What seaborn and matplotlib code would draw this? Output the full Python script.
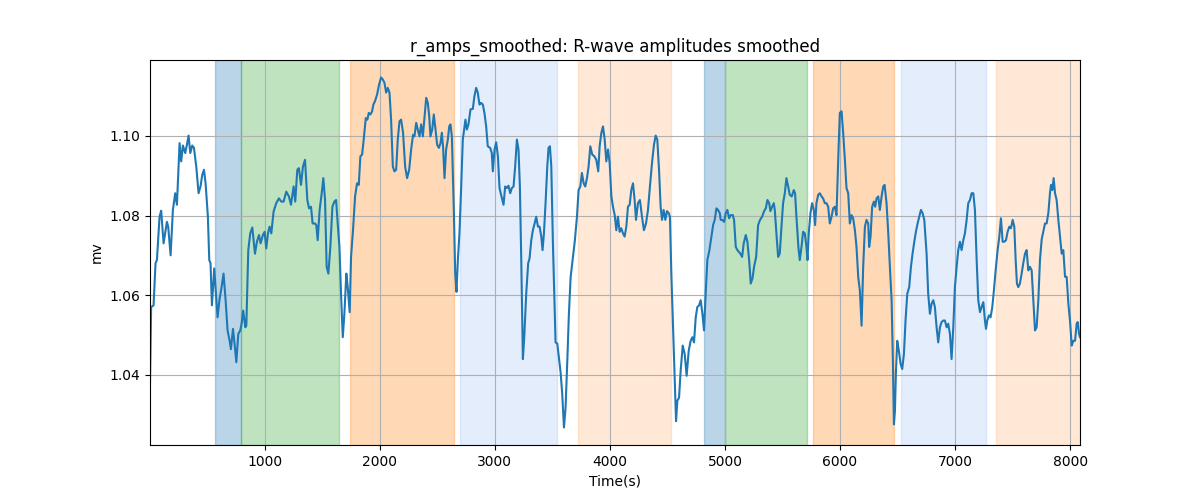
import numpy as np
import pandas as pd
import seaborn as sns
import matplotlib
matplotlib.use("Agg")
import matplotlib.pyplot as plt

# Time axis (seconds) and smoothed R-wave amplitude (mV)
time_s = [
    4, 14, 35, 52, 64, 87, 101, 122, 151, 162,
    183, 203, 223, 238, 261, 275, 290, 310, 325, 339,
    354, 371, 386, 406, 426, 443, 458, 473, 487, 507,
    519, 530, 542, 562, 577, 591, 609, 626, 643, 661,
    678, 696, 707, 725, 739, 754, 771, 788, 800, 814,
    832, 841, 858, 875, 893, 916, 933, 951, 965, 985,
    1000, 1014, 1029, 1043, 1058, 1078, 1101, 1124, 1145, 1165,
    1188, 1211, 1229, 1252, 1266, 1284, 1298, 1316, 1333, 1351,
    1371, 1386, 1403, 1417, 1438, 1449, 1461, 1478, 1496, 1510,
    1525, 1539, 1554, 1571, 1589, 1606, 1621, 1635, 1650, 1664,
    1679, 1693, 1710, 1722, 1739, 1751, 1768, 1786, 1803, 1818,
    1832, 1847, 1861, 1879, 1893, 1905, 1919, 1934, 1945, 1960,
    1977, 1995, 2012, 2027, 2041, 2056, 2070, 2085, 2099, 2114,
    2128, 2143, 2157, 2172, 2186, 2203, 2221, 2238, 2256, 2273,
    2290, 2302, 2317, 2331, 2346, 2360, 2375, 2389, 2404, 2418,
    2430, 2441, 2456, 2470, 2485, 2499, 2514, 2528, 2540, 2551,
    2563, 2577, 2592, 2604, 2615, 2627, 2644, 2656, 2667, 2679,
    2693, 2708, 2722, 2737, 2745, 2757, 2771, 2789, 2809, 2823,
    2838, 2852, 2867, 2881, 2896, 2910, 2925, 2939, 2960, 2974,
    2983, 2998, 3012, 3027, 3041, 3058, 3076, 3090, 3105, 3119,
    3134, 3148, 3163, 3177, 3192, 3206, 3218, 3230, 3244, 3256,
    3273, 3290, 3302, 3317, 3331, 3346, 3360, 3375, 3389, 3404,
    3415, 3427, 3441, 3456, 3467, 3479, 3491, 3505, 3520, 3528,
    3543, 3557, 3572, 3586, 3601, 3615, 3630, 3644, 3659, 3679,
    3696, 3714, 3728, 3743, 3757, 3772, 3786, 3801, 3815, 3830,
    3847, 3865, 3882, 3899, 3911, 3926, 3940, 3955, 3969, 3984,
    3998, 4013, 4027, 4042, 4056, 4070, 4085, 4099, 4114, 4128,
    4143, 4157, 4172, 4186, 4201, 4215, 4227, 4244, 4261, 4279,
    4296, 4314, 4331, 4348, 4366, 4383, 4398, 4412, 4427, 4441,
    4453, 4467, 4482, 4496, 4511, 4522, 4534, 4549, 4563, 4575,
    4586, 4601, 4615, 4633, 4650, 4667, 4685, 4702, 4717, 4731,
    4746, 4760, 4775, 4789, 4804, 4818, 4833, 4847, 4865, 4882,
    4897, 4911, 4926, 4940, 4955, 4963, 4978, 4992, 5007, 5021,
    5036, 5050, 5068, 5079, 5094, 5108, 5120, 5134, 5149, 5163,
    5181, 5195, 5210, 5224, 5239, 5253, 5271, 5288, 5305, 5323,
    5340, 5355, 5369, 5384, 5395, 5410, 5424, 5433, 5447, 5462,
    5476, 5491, 5505, 5520, 5534, 5549, 5563, 5580, 5598, 5609,
    5621, 5638, 5650, 5665, 5679, 5694, 5708, 5717, 5728, 5743,
    5757, 5772, 5783, 5795, 5810, 5824, 5839, 5853, 5868, 5882,
    5897, 5911, 5926, 5940, 5955, 5969, 5984, 5998, 6013, 6027,
    6042, 6056, 6071, 6085, 6100, 6114, 6129, 6143, 6158, 6172,
    6187, 6201, 6216, 6230, 6245, 6253, 6265, 6279, 6294, 6305,
    6317, 6332, 6346, 6361, 6375, 6387, 6404, 6419, 6433, 6448,
    6459, 6468, 6477, 6485, 6497, 6511, 6526, 6540, 6555, 6569,
    6584, 6601, 6616, 6630, 6645, 6659, 6674, 6688, 6703, 6717,
    6732, 6752, 6766, 6781, 6795, 6810, 6824, 6839, 6853, 6868,
    6882, 6897, 6911, 6926, 6940, 6955, 6969, 6984, 6998, 7013,
    7027, 7042, 7056, 7071, 7085, 7100, 7114, 7129, 7143, 7158,
    7172, 7187, 7201, 7216, 7230, 7245, 7259, 7268, 7279, 7294,
    7308, 7323, 7337, 7352, 7369, 7384, 7398, 7413, 7427, 7442,
    7456, 7471, 7485, 7500, 7514, 7526, 7537, 7549, 7563, 7578,
    7592, 7607, 7621, 7636, 7650, 7665, 7679, 7694, 7708, 7723,
    7737, 7752, 7766, 7781, 7795, 7810, 7824, 7833, 7845, 7856,
    7868, 7882, 7897, 7911, 7926, 7940, 7955, 7969, 7984, 7998,
    8013, 8027, 8042, 8056, 8065, 8077, 8085,
]

r_amps = [
    1.038, 1.057, 1.0574, 1.068, 1.0688, 1.0797, 1.0812, 1.073, 1.0784, 1.0772,
    1.070, 1.0814, 1.0856, 1.0827, 1.0982, 1.0936, 1.0976, 1.0957, 1.0978, 1.1001,
    1.0957, 1.0976, 1.097, 1.0923, 1.0856, 1.0873, 1.0902, 1.0915, 1.0881, 1.0797,
    1.0688, 1.068, 1.0574, 1.0667, 1.0603, 1.0544, 1.0591, 1.062, 1.0654, 1.0587,
    1.0511, 1.0485, 1.0464, 1.0515, 1.0477, 1.0431, 1.0502, 1.0511, 1.0528, 1.0561,
    1.0519, 1.0523, 1.0713, 1.0755, 1.077, 1.0704, 1.0734, 1.0751, 1.073, 1.0751,
    1.0759, 1.0717, 1.0755, 1.0772, 1.0755, 1.081, 1.0831, 1.0843, 1.0835, 1.0835,
    1.086, 1.0848, 1.0827, 1.0873, 1.0835, 1.0915, 1.0919, 1.0877, 1.0923, 1.094,
    1.0839, 1.0818, 1.0822, 1.078, 1.078, 1.0776, 1.0738, 1.0814, 1.0856, 1.0894,
    1.0839, 1.0671, 1.0654, 1.0721, 1.0822, 1.0835, 1.0839, 1.078, 1.0721, 1.0603,
    1.0494, 1.0553, 1.0654, 1.062, 1.0557, 1.0696, 1.0763, 1.0848, 1.0881, 1.0877,
    1.0949, 1.0953, 1.0991, 1.1045, 1.1041, 1.1058, 1.1054, 1.1062, 1.1079, 1.1088,
    1.1104, 1.113, 1.1147, 1.1142, 1.1134, 1.1109, 1.1121, 1.1109, 1.1041, 1.0923,
    1.0911, 1.0915, 1.0991, 1.1037, 1.1041, 1.1008, 1.0923, 1.0894, 1.0915, 1.0966,
    1.1003, 1.0999, 1.1033, 1.1016, 1.0999, 1.1029, 1.0999, 1.1045, 1.1096, 1.1083,
    1.105, 1.0999, 1.1016, 1.1054, 1.1016, 1.0978, 1.097, 1.0982, 1.1008, 1.097,
    1.0894, 1.0966, 1.0991, 1.1024, 1.1029, 1.0999, 1.0814, 1.0654, 1.0608, 1.0688,
    1.0755, 1.0873, 1.0991, 1.1024, 1.1041, 1.1016, 1.1029, 1.1067, 1.1068, 1.11,
    1.1121, 1.1109, 1.1079, 1.1083, 1.1079, 1.1058, 1.1024, 1.0974, 1.097, 1.0957,
    1.0911, 1.0966, 1.0984, 1.0949, 1.0869, 1.0848, 1.0827, 1.0873, 1.0869, 1.0875,
    1.0856, 1.0869, 1.0873, 1.0923, 1.0991, 1.0966, 1.0873, 1.0688, 1.0439, 1.0494,
    1.0603, 1.068, 1.0692, 1.0738, 1.0763, 1.078, 1.0797, 1.0772, 1.0772, 1.0747,
    1.0713, 1.0755, 1.0831, 1.0923, 1.097, 1.0974, 1.0923, 1.073, 1.0561, 1.0481,
    1.0478, 1.0443, 1.0405, 1.0351, 1.0267, 1.0317, 1.0435, 1.0553, 1.0645, 1.0696,
    1.0738, 1.0797, 1.0864, 1.0873, 1.0907, 1.0881, 1.0873, 1.0894, 1.0923, 1.0974,
    1.0953, 1.0949, 1.094, 1.0911, 1.0974, 1.1008, 1.1024, 1.0991, 1.0936, 1.0966,
    1.0932, 1.0848, 1.0822, 1.0801, 1.0763, 1.0797, 1.0759, 1.0768, 1.0755, 1.0747,
    1.0772, 1.0822, 1.0827, 1.0864, 1.0881, 1.0839, 1.0789, 1.0831, 1.0839, 1.0797,
    1.0763, 1.078, 1.0814, 1.0873, 1.0932, 1.0978, 1.1001, 1.0991, 1.0915, 1.0822,
    1.0789, 1.0814, 1.0789, 1.0811, 1.0806, 1.0797, 1.0654, 1.0519, 1.0394, 1.0283,
    1.0334, 1.0342, 1.041, 1.0473, 1.0452, 1.0397, 1.046, 1.0485, 1.0494, 1.0481,
    1.0544, 1.057, 1.0574, 1.0587, 1.0553, 1.0511, 1.0608, 1.0688, 1.0713, 1.0747,
    1.0776, 1.0789, 1.0818, 1.0814, 1.0806, 1.0789, 1.0789, 1.0784, 1.0806, 1.0814,
    1.0793, 1.0801, 1.0801, 1.0789, 1.0721, 1.0713, 1.0709, 1.0704, 1.0696, 1.073,
    1.0751, 1.0734, 1.0688, 1.0629, 1.0642, 1.0671, 1.0696, 1.0776, 1.0789, 1.0797,
    1.0811, 1.0818, 1.0839, 1.0831, 1.0811, 1.0822, 1.0831, 1.0814, 1.0755, 1.0696,
    1.0704, 1.0772, 1.0831, 1.0856, 1.0894, 1.0873, 1.0852, 1.0848, 1.0864, 1.0856,
    1.0797, 1.0721, 1.0688, 1.0721, 1.0759, 1.0755, 1.0721, 1.0688, 1.0755, 1.0806,
    1.0831, 1.0814, 1.0776, 1.0831, 1.0852, 1.0856, 1.0848, 1.0843, 1.0831, 1.0831,
    1.0822, 1.078, 1.0797, 1.0818, 1.0822, 1.0801, 1.094, 1.1058, 1.1062, 1.1008,
    1.094, 1.0869, 1.0856, 1.078, 1.0801, 1.0793, 1.0763, 1.0721, 1.0645, 1.0612,
    1.0523, 1.0671, 1.0772, 1.0789, 1.078, 1.0721, 1.0747, 1.0822, 1.0835, 1.0822,
    1.0843, 1.0848, 1.0814, 1.0848, 1.0873, 1.0877, 1.0831, 1.0755, 1.0671, 1.0587,
    1.0435, 1.0275, 1.0309, 1.0402, 1.0485, 1.046, 1.0427, 1.0414, 1.0452, 1.0536,
    1.0603, 1.062, 1.0671, 1.0704, 1.0734, 1.0759, 1.078, 1.0797, 1.0814, 1.0806,
    1.0789, 1.0704, 1.0603, 1.0553, 1.0578, 1.0587, 1.057, 1.0519, 1.0481, 1.0519,
    1.0532, 1.0536, 1.0536, 1.0519, 1.0528, 1.0502, 1.0439, 1.0519, 1.062, 1.0671,
    1.0713, 1.0734, 1.0713, 1.0738, 1.0755, 1.0789, 1.0831, 1.0839, 1.0856, 1.0856,
    1.0814, 1.0688, 1.0587, 1.0557, 1.057, 1.0582, 1.0536, 1.0515, 1.0536, 1.0549,
    1.0544, 1.057, 1.0612, 1.0662, 1.0713, 1.0747, 1.0793, 1.0734, 1.0734, 1.0738,
    1.0759, 1.0772, 1.0768, 1.0789, 1.0772, 1.0688, 1.0629, 1.062, 1.0629, 1.0654,
    1.068, 1.0704, 1.0713, 1.0662, 1.0671, 1.0662, 1.0587, 1.0511, 1.0519, 1.0587,
    1.0688, 1.074, 1.0759, 1.078, 1.078, 1.0806, 1.0856, 1.0877, 1.0864, 1.0894,
    1.0856, 1.0839, 1.0789, 1.0747, 1.0704, 1.0713, 1.0646, 1.0646, 1.0578, 1.0536,
    1.0473, 1.0485, 1.0485, 1.0528, 1.0532, 1.0502, 1.0494,
]

# Shaded phases (start / end in seconds)
span_start = [571, 791, 1745, 2702, 3720, 4817, 5003, 5763, 6528, 7354]
span_end = [791, 1650, 2647, 3543, 4534, 5003, 5717, 6467, 7264, 8085]
span_color = ["tab:blue", "tab:green", "tab:orange", "cornflowerblue", "tab:orange",
              "tab:blue", "tab:green", "tab:orange", "cornflowerblue", "tab:orange"]
span_alpha = [0.3, 0.3, 0.3, 0.17, 0.17, 0.3, 0.3, 0.3, 0.17, 0.17]

df = pd.DataFrame({"time": time_s, "amp": r_amps})

fig, ax = plt.subplots(figsize=(12, 5), dpi=100)

# Background phases
for s, e, c, a in zip(span_start, span_end, span_color, span_alpha):
    ax.axvspan(s, e, color=c, alpha=a)

sns.lineplot(data=df, x="time", y="amp", ax=ax, color="tab:blue", linewidth=1.5)

ax.set_xlim(time_s[0], time_s[-1])
ax.grid(True)
ax.set_title("r_amps_smoothed: R-wave amplitudes smoothed")
ax.set_xlabel("Time(s)")
ax.set_ylabel("mv")

plt.savefig("out.png", dpi=100)
